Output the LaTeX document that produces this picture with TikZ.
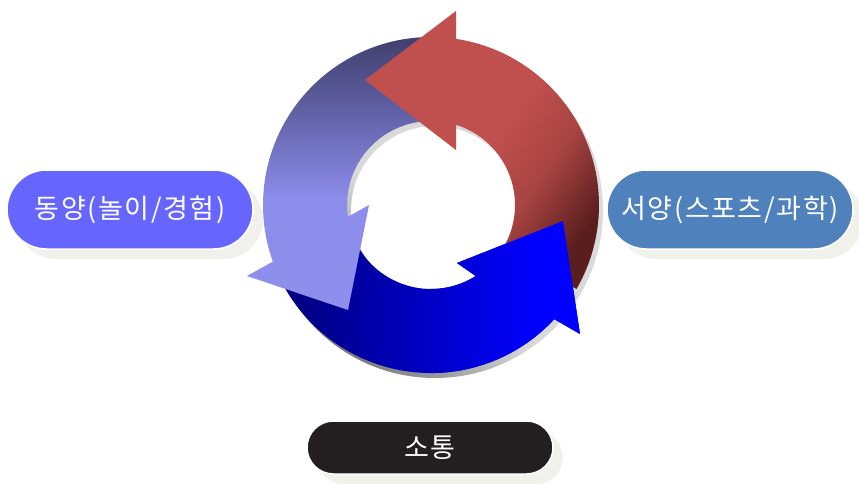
\documentclass[tikz,border=0pt]{standalone}
\usepackage{fontspec}
\newfontfamily\kr[LetterSpace=6]{Noto Sans CJK KR}
\usetikzlibrary{calc}
\definecolor{pillL}{HTML}{6666FF}
\definecolor{pillR}{HTML}{4F81BD}
\definecolor{pillB}{HTML}{231F20}
\definecolor{pillShadow}{HTML}{F1F1EB}
\pgfdeclarehorizontalshading{bluesh}{100bp}{color(0bp)=(rgb,255:red,0;green,0;blue,112); color(25bp)=(rgb,255:red,0;green,0;blue,112); color(28bp)=(rgb,255:red,0;green,0;blue,128); color(50bp)=(rgb,255:red,0;green,0;blue,196); color(68bp)=(rgb,255:red,0;green,0;blue,255); color(100bp)=(rgb,255:red,0;green,0;blue,255)}
\pgfdeclareverticalshading{lavsh}{100bp}{color(0bp)=(rgb,255:red,143;green,143;blue,238); color(45bp)=(rgb,255:red,141;green,141;blue,236); color(60bp)=(rgb,255:red,100;green,100;blue,172); color(75bp)=(rgb,255:red,64;green,64;blue,110); color(100bp)=(rgb,255:red,64;green,64;blue,110)}
\pgfdeclarehorizontalshading{redsh}{100bp}{color(0bp)=(rgb,255:red,192;green,80;blue,77); color(50bp)=(rgb,255:red,192;green,80;blue,77); color(62bp)=(rgb,255:red,168;green,68;blue,66); color(75bp)=(rgb,255:red,90;green,30;blue,30); color(100bp)=(rgb,255:red,90;green,30;blue,30)}
\pgfdeclarehorizontalshading{shadsh}{100bp}{color(0bp)=(rgb,255:red,120;green,120;blue,120); color(25bp)=(rgb,255:red,120;green,120;blue,120); color(32bp)=(rgb,255:red,150;green,150;blue,150); color(45bp)=(rgb,255:red,216;green,216;blue,216); color(100bp)=(rgb,255:red,224;green,224;blue,224)}
\tikzset{
  pill/.style={rectangle, draw=white, line width=1.5pt, text=white, font=\kr\fontsize{27}{32}\selectfont, inner sep=0pt},
  pillsh/.style={rectangle, fill=pillShadow, inner sep=0pt},
}
\def\RR{168}
\def\rr{84}
\begin{document}
\begin{tikzpicture}[x=1pt,y=-1pt]
\useasboundingbox (0,0) rectangle (859,484);
\coordinate (C) at (431,205);
% ring shadow
\shade[shading=shadsh, shading angle=45, even odd rule] ($(C)+(4,5)$) circle[radius=\RR] ($(C)+(4,5)$) circle[radius=\rr];
% blue arrow
\def\bluepath{($(C)+(160:\RR)$) arc[start angle=160, end angle=42.8, radius=\RR] -- (580,334) -- (563,221) -- (457,263) -- ($(C)+(57.8:\rr)$) arc[start angle=57.8, end angle=160, radius=\rr] -- cycle}
\shade[shading=bluesh] \bluepath;
% lavender arrow
\shade[shading=lavsh] ($(C)+(-90:\RR)$) arc[start angle=-90, end angle=-199.7, radius=\RR] -- (247,276) -- (348,310) -- (369,205) -- ($(C)+(-188.1:\rr)$) arc[start angle=-188.1, end angle=-90, radius=\rr] -- cycle;
% red arrow
\shade[shading=redsh, shading angle=-35] ($(C)+(30:\RR)$) arc[start angle=30, end angle=-81.4, radius=\RR] -- (456,11) -- (365,80) -- (456,150) -- ($(C)+(-72.6:\rr)$) arc[start angle=-72.6, end angle=30, radius=\rr] -- cycle;
% blue head over red tail
\begin{scope}
\clip (431,0) rectangle (859,484);
\shade[shading=bluesh] \bluepath;
\end{scope}
% label pills
\node[pillsh, minimum width=246pt, minimum height=79pt, rounded corners=39.5pt] (eastsh) at (140,219.5) {};
\node[pill, fill=pillL, minimum width=246pt, minimum height=79pt, rounded corners=39.5pt] (east) at (130,209.5) {동양(놀이/경험)};
\node[pillsh, minimum width=246pt, minimum height=79pt, rounded corners=39.5pt] (westsh) at (740,219.5) {};
\node[pill, fill=pillR, minimum width=246pt, minimum height=79pt, rounded corners=39.5pt] (west) at (730,209.5) {서양(스포츠/과학)};
\node[pillsh, minimum width=246pt, minimum height=53pt, rounded corners=26.5pt] (commsh) at (440,457.5) {};
\node[pill, fill=pillB, minimum width=246pt, minimum height=53pt, rounded corners=26.5pt] (comm) at (430,447.5) {소통};
\end{tikzpicture}
\end{document}
